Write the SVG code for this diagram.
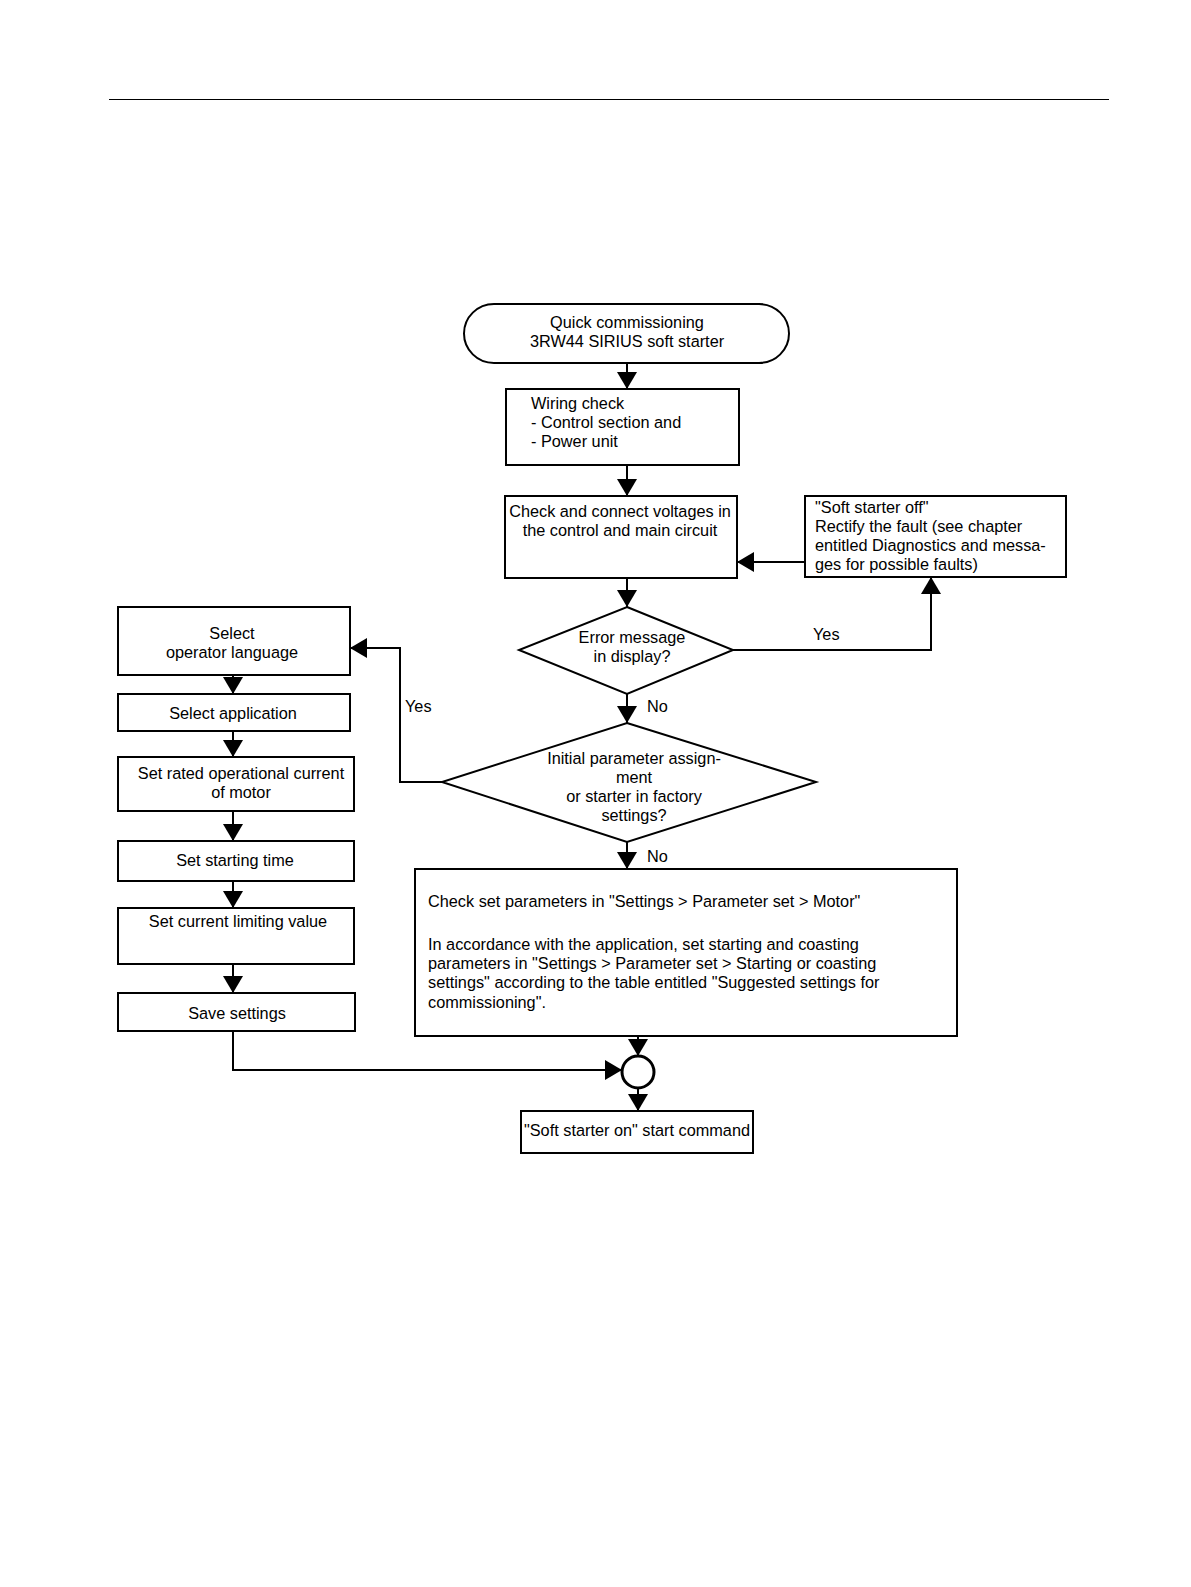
<svg xmlns="http://www.w3.org/2000/svg" width="1191" height="1587" viewBox="0 0 1191 1587">
<defs>
<marker id="arr" viewBox="0 0 17 20" refX="17" refY="10" markerWidth="17" markerHeight="20" markerUnits="userSpaceOnUse" orient="auto">
<path d="M0,0 L17,10 L0,20 Z" fill="#000"/>
</marker>
<style>
.n{fill:#fff;stroke:#000;stroke-width:2}
.c{fill:none;stroke:#000;stroke-width:2;marker-end:url(#arr)}
text{font-family:"Liberation Sans",Arial,sans-serif;font-size:16.3px;fill:#000}
.m{text-anchor:middle}
</style>
</defs>
<rect width="1191" height="1587" fill="#fff"/>
<line x1="109" y1="99.5" x2="1109" y2="99.5" stroke="#000" stroke-width="1"/>

<g id="connectors">
<line class="c" x1="627" y1="363" x2="627" y2="389"/>
<line class="c" x1="627" y1="465" x2="627" y2="496"/>
<line class="c" x1="627" y1="578" x2="627" y2="607"/>
<polyline class="c" points="733,650 931,650 931,577"/>
<line class="c" x1="805" y1="562" x2="737" y2="562"/>
<line class="c" x1="627" y1="694" x2="627" y2="723"/>
<polyline class="c" points="442,782 400,782 400,648 350,648"/>
<line class="c" x1="627" y1="842" x2="627" y2="869"/>
<line class="c" x1="233" y1="675" x2="233" y2="694"/>
<line class="c" x1="233" y1="731" x2="233" y2="757"/>
<line class="c" x1="233" y1="811" x2="233" y2="841"/>
<line class="c" x1="233" y1="881" x2="233" y2="908"/>
<line class="c" x1="233" y1="964" x2="233" y2="993"/>
<polyline class="c" points="233,1031 233,1070 622,1070"/>
<line class="c" x1="638" y1="1036" x2="638" y2="1056"/>
<line class="c" x1="638" y1="1088" x2="638" y2="1111"/>
<text x="813" y="640">Yes</text>
<text x="647" y="712">No</text>
<text x="405" y="712">Yes</text>
<text x="647" y="862">No</text>
</g>

<g id="start">
<rect class="n" x="464" y="304" width="325" height="59" rx="30" ry="30"/>
<text class="m" x="627" y="328">Quick commissioning</text>
<text class="m" x="627" y="347">3RW44 SIRIUS soft starter</text>
</g>

<g id="wiring">
<rect class="n" x="506" y="389" width="233" height="76"/>
<text x="531" y="409">Wiring check</text>
<text x="531" y="428">- Control section and</text>
<text x="531" y="447">- Power unit</text>
</g>

<g id="check-voltages">
<rect class="n" x="505" y="496" width="232" height="82"/>
<text class="m" x="620" y="517">Check and connect voltages in</text>
<text class="m" x="620" y="536">the control and main circuit</text>
</g>

<g id="soft-off">
<rect class="n" x="805" y="496" width="261" height="81"/>
<text x="815" y="513">"Soft starter off"</text>
<text x="815" y="532">Rectify the fault (see chapter</text>
<text x="815" y="551">entitled Diagnostics and messa-</text>
<text x="815" y="570">ges for possible faults)</text>
</g>

<g id="error-decision">
<polygon class="n" points="627,607 733,650 627,694 519,650"/>
<text class="m" x="632" y="643">Error message</text>
<text class="m" x="632" y="662">in display?</text>
</g>

<g id="initial-decision">
<polygon class="n" points="627,723 816,782 627,842 442,782"/>
<text class="m" x="634" y="764">Initial parameter assign-</text>
<text class="m" x="634" y="783">ment</text>
<text class="m" x="634" y="802">or starter in factory</text>
<text class="m" x="634" y="821">settings?</text>
</g>

<g id="language">
<rect class="n" x="118" y="607" width="232" height="68"/>
<text class="m" x="232" y="639">Select</text>
<text class="m" x="232" y="658">operator language</text>
</g>

<g id="application">
<rect class="n" x="118" y="694" width="232" height="37"/>
<text class="m" x="233" y="719">Select application</text>
</g>

<g id="rated-current">
<rect class="n" x="118" y="757" width="236" height="54"/>
<text class="m" x="241" y="779">Set rated operational current</text>
<text class="m" x="241" y="798">of motor</text>
</g>

<g id="starting-time">
<rect class="n" x="118" y="841" width="236" height="40"/>
<text class="m" x="235" y="866">Set starting time</text>
</g>

<g id="current-limit">
<rect class="n" x="118" y="908" width="236" height="56"/>
<text class="m" x="238" y="927">Set current limiting value</text>
</g>

<g id="save">
<rect class="n" x="118" y="993" width="237" height="38"/>
<text class="m" x="237" y="1019">Save settings</text>
</g>

<g id="check-params">
<rect class="n" x="415" y="869" width="542" height="167"/>
<text x="428" y="907">Check set parameters in "Settings &gt; Parameter set &gt; Motor"</text>
<text x="428" y="950">In accordance with the application, set starting and coasting</text>
<text x="428" y="969">parameters in "Settings &gt; Parameter set &gt; Starting or coasting</text>
<text x="428" y="988">settings" according to the table entitled "Suggested settings for</text>
<text x="428" y="1008">commissioning".</text>
</g>

<g id="junction">
<circle cx="638" cy="1072" r="16" fill="#fff" stroke="#000" stroke-width="3"/>
</g>

<g id="soft-on">
<rect class="n" x="521" y="1111" width="232" height="42"/>
<text class="m" x="637" y="1136">"Soft starter on" start command</text>
</g>
</svg>
